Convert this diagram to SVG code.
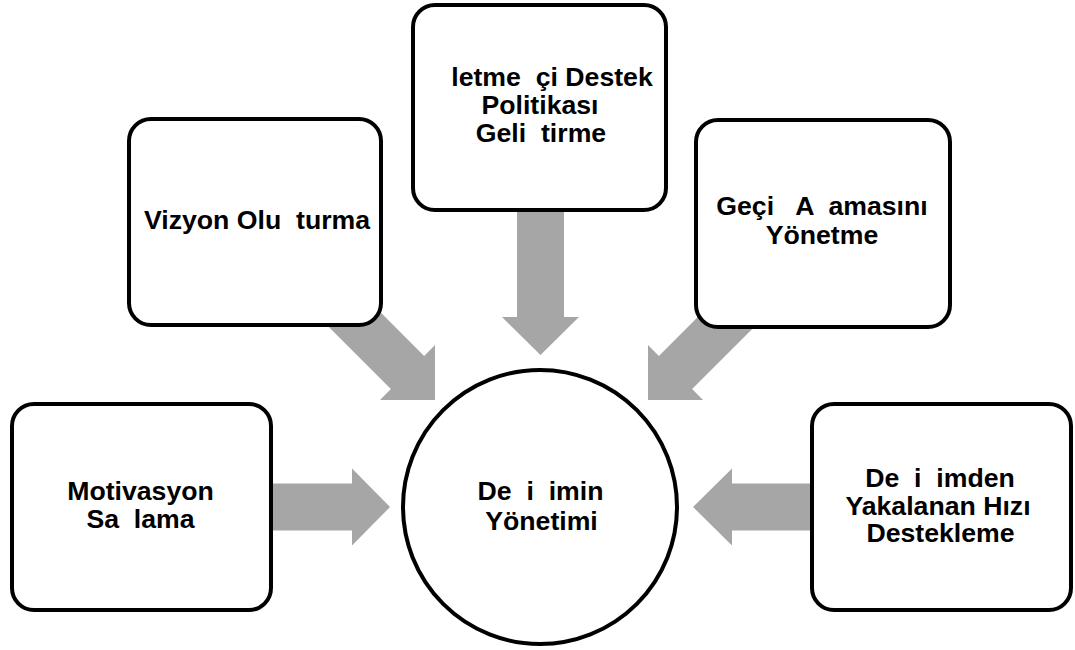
<svg xmlns="http://www.w3.org/2000/svg" width="1075" height="650" viewBox="0 0 1075 650">
  <defs>
    <style>
      .box { fill: #ffffff; stroke: #000000; stroke-width: 4; }
      .arrow { fill: #a6a6a6; stroke: none; }
      .label { font-family: "Liberation Sans", Arial, "Noto Sans", sans-serif; font-weight: bold; font-size: 26.67px; fill: #000000; text-anchor: middle; white-space: pre; }
    </style>
  </defs>
  <rect width="1075" height="650" fill="#ffffff"/>

  <!-- block arrows pointing into the central circle -->
  <g id="connectors">
    <polygon class="arrow" points="346.3,278.1 424.1,355.9 435,345 435,400 380,400 390.9,389.1 313.1,311.3"/>
    <polygon class="arrow" points="517,205 564,205 564,317 579,317 540.5,355 502,317 517,317"/>
    <polygon class="arrow" points="736.7,278.1 658.9,355.9 648,345 648,400 703,400 692.1,389.1 769.9,311.3"/>
    <polygon class="arrow" points="271,483.5 352,483.5 352,468.5 390,507 352,545.5 352,530.5 271,530.5"/>
    <polygon class="arrow" points="812,483.5 732,483.5 732,468.5 693,507 732,545.5 732,530.5 812,530.5"/>
  </g>

  <g id="node-vizyon">
    <rect class="box" x="129" y="119" width="252" height="206" rx="22" ry="22"/>
    <text class="label" x="257" y="229" xml:space="preserve">Vizyon Olu  turma</text>
  </g>

  <g id="node-destek-politikasi">
    <rect class="box" x="413" y="5" width="253" height="205" rx="22" ry="22"/>
    <text class="label" x="552" y="86" xml:space="preserve">letme  çi Destek</text>
    <text class="label" x="540" y="114">Politikası</text>
    <text class="label" x="541" y="142" xml:space="preserve">Geli  tirme</text>
  </g>

  <g id="node-gecis">
    <rect class="box" x="696" y="120" width="254" height="207" rx="22" ry="22"/>
    <text class="label" x="822" y="215" xml:space="preserve">Geçi   A  amasını</text>
    <text class="label" x="822" y="244">Yönetme</text>
  </g>

  <g id="node-motivasyon">
    <rect class="box" x="12" y="404" width="259" height="206" rx="22" ry="22"/>
    <text class="label" x="140.5" y="500">Motivasyon</text>
    <text class="label" x="140.5" y="528" xml:space="preserve">Sa  lama</text>
  </g>

  <g id="node-hiz">
    <rect class="box" x="812" y="404" width="259" height="206" rx="22" ry="22"/>
    <text class="label" x="940" y="487" xml:space="preserve">De  i  imden</text>
    <text class="label" x="938" y="515">Yakalanan Hızı</text>
    <text class="label" x="940.5" y="542">Destekleme</text>
  </g>

  <g id="node-center">
    <circle class="box" cx="540" cy="507" r="137"/>
    <text class="label" x="540.5" y="500" xml:space="preserve">De  i  imin</text>
    <text class="label" x="541.5" y="530">Yönetimi</text>
  </g>
</svg>
